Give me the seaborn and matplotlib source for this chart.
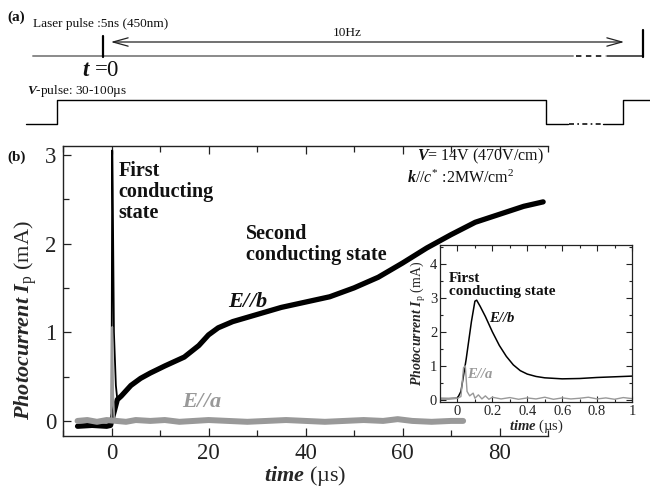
import numpy as np
import pandas as pd
import matplotlib
matplotlib.use("Agg")
import matplotlib.pyplot as plt
import seaborn as sns
from matplotlib.ticker import MultipleLocator

# ---------------- data ----------------
# main panel, E//b : fast spike (thin trace) and slow part (thick noisy trace)
b_fast_t = [-0.3, 0.0, 0.15, 0.25, 0.5, 0.9, 1.2]
b_fast_I = [-0.05, -0.05, 3.05, 2.6, 1.0, 0.40, 0.24]
b_slow_t = [-7, -4, -1, -0.2, 1.2, 2, 4, 6, 8, 11, 15, 18, 20, 22, 25, 30, 35,
            40, 45, 50, 55, 60, 65, 70, 75, 80, 85, 89]
b_slow_I = [-0.06, -0.05, -0.06, -0.05, 0.24, 0.28, 0.40, 0.48, 0.54, 0.62, 0.72,
            0.85, 0.97, 1.05, 1.12, 1.20, 1.28, 1.34, 1.40, 1.50, 1.62, 1.78,
            1.95, 2.10, 2.24, 2.33, 2.42, 2.47]
# main panel, E//a
a_fast_t = [-0.2, 0.0, 0.15, 0.35, 0.6]
a_fast_I = [0.0, 0.0, 1.06, 0.3, 0.0]
a_slow_t = [-7, -5, -3, -1, 1, 3, 5, 8, 11, 14, 17, 20, 24, 28, 32, 36, 40, 44,
            48, 52, 56, 59, 62, 66, 70, 72.5]
a_slow_I = [0.0, 0.01, -0.01, 0.01, 0.0, -0.01, 0.01, 0.0, 0.01, -0.01, 0.0,
            0.01, 0.0, -0.01, 0.0, 0.01, 0.0, -0.01, 0.0, 0.01, 0.0, 0.02,
            0.0, -0.01, 0.0, 0.0]
# inset (time in microseconds)
ib_t = [-0.1, -0.05, 0.0, 0.02, 0.05, 0.08, 0.1, 0.11, 0.13, 0.16, 0.2, 0.24,
        0.28, 0.32, 0.36, 0.4, 0.45, 0.5, 0.6, 0.7, 0.8, 0.9, 1.0]
ib_I = [0.04, 0.04, 0.05, 0.25, 1.2, 2.3, 2.9, 2.93, 2.75, 2.45, 2.0, 1.6,
        1.28, 1.03, 0.86, 0.76, 0.69, 0.65, 0.62, 0.63, 0.66, 0.68, 0.70]
ia_t = [-0.1, -0.05, 0.0, 0.02, 0.035, 0.045, 0.055, 0.07, 0.09, 0.1, 0.12,
        0.14, 0.16, 0.18, 0.2, 0.25, 0.3, 0.35, 0.4, 0.45, 0.5, 0.55, 0.6,
        0.65, 0.7, 0.75, 0.8, 0.85, 0.9, 0.95, 1.0]
ia_I = [0.05, 0.04, 0.05, 0.1, 0.95, 1.0, 0.25, 0.12, 0.2, 0.05, 0.15, 0.03,
        0.12, 0.02, 0.08, 0.03, 0.07, 0.02, 0.06, 0.03, 0.08, 0.02, 0.06,
        0.03, 0.05, 0.08, 0.03, 0.06, 0.02, 0.07, 0.04]

main_xticks = [0, 20, 40, 60, 80]
main_yticks = [0, 1, 2, 3]
inset_xticks = [0, 0.2, 0.4, 0.6, 0.8, 1]
inset_yticks = [0, 1, 2, 3, 4]

# ---------------- style ----------------
sns.set_theme(style="ticks")
plt.rcParams["font.family"] = ["Liberation Serif", "DejaVu Serif"]
plt.rcParams["mathtext.fontset"] = "custom"
plt.rcParams["mathtext.rm"] = "Liberation Serif"
plt.rcParams["mathtext.it"] = "Liberation Serif:italic"
plt.rcParams["mathtext.bf"] = "Liberation Serif:bold"
try:
    plt.rcParams["mathtext.bfit"] = "Liberation Serif:italic:bold"
except KeyError:
    pass
plt.rcParams["axes.linewidth"] = 1.0
plt.rcParams["text.color"] = "#111111"

W, H = 650, 487
fig = plt.figure(figsize=(6.5, 4.87), dpi=100)

# ---------------- panel (a): timing schematic, pixel coordinates ----------------
axs = fig.add_axes([0, 0, 1, 1])
axs.set_xlim(0, W)
axs.set_ylim(H, 0)
axs.axis("off")
axs.plot([33, 573], [56, 56], color="#8a8a8a", lw=1.4)
axs.plot([576, 606], [56, 56], color="#222222", lw=1.3, ls=(0, (3, 2.5)),
         solid_capstyle="butt", dash_capstyle="butt")
axs.plot([607, 643], [56, 56], color="#333333", lw=1.2)
axs.plot([103, 103], [36, 57], color="black", lw=1.6)
axs.plot([643, 643], [30, 57], color="black", lw=1.6)
axs.annotate("", xy=(627, 42), xytext=(108, 42),
             arrowprops=dict(arrowstyle="<->,head_length=0.9,head_width=0.25",
                             lw=0.9, color="#222222"))
axs.text(347, 33, "10Hz", ha="center", va="center", fontsize=9.5)
axs.plot([26, 57, 57, 546, 546, 568], [124, 124, 100, 100, 124, 124],
         color="black", lw=1.0)
axs.plot([569, 602], [124, 124], color="#111111", lw=1.2, ls=(0, (3, 2, 1, 2)),
         dash_capstyle="butt")
axs.plot([603, 623, 623, 650], [124, 124, 100, 100], color="black", lw=1.0)
axs.text(7, 17, "(a)", fontsize=11, fontweight="bold", ha="left", va="center")
axs.text(33, 24, "Laser pulse :5ns (450nm)", fontsize=9.5, ha="left", va="center")
axs.text(82, 71, r"$\mathbfit{t}$ =0", fontsize=16.5, ha="left", va="center")
axs.text(27, 91, r"$\mathbfit{V}$-pulse: 30-100µs", fontsize=9.5, ha="left", va="center")
axs.text(7, 157, "(b)", fontsize=11, fontweight="bold", ha="left", va="center")

# ---------------- panel (b): main axes ----------------
ax = fig.add_axes([63 / W, 1 - 436 / H, (548 - 63) / W, (436 - 146) / H])
ax.patch.set_alpha(0)
sns.lineplot(x=b_slow_t, y=b_slow_I, ax=ax, color="black", lw=3.8,
             estimator=None, sort=False)
sns.lineplot(x=b_fast_t, y=b_fast_I, ax=ax, color="black", lw=1.3,
             estimator=None, sort=False)
sns.lineplot(x=a_slow_t, y=a_slow_I, ax=ax, color="#999999", lw=4.3,
             estimator=None, sort=False)
sns.lineplot(x=a_fast_t, y=a_fast_I, ax=ax, color="#999999", lw=1.3,
             estimator=None, sort=False)
ax.set_xlim(-10, 90)
ax.set_ylim(-0.17, 3.1)
ax.set_xticks(main_xticks)
ax.set_yticks(main_yticks)
ax.xaxis.set_minor_locator(MultipleLocator(10))
ax.yaxis.set_minor_locator(MultipleLocator(0.5))
ax.tick_params(which="both", direction="in", top=True, right=False,
               labelsize=16.5, colors="#222222", pad=5)
ax.tick_params(which="major", length=6, width=0.9)
ax.tick_params(which="minor", length=4, width=0.9)
ax.spines["right"].set_visible(False)
for s in ["left", "bottom", "top"]:
    ax.spines[s].set_color("#222222")
ax.set_xlabel(r"$\mathbfit{time}$ (µs)", fontsize=16, labelpad=0)
ax.set_ylabel(r"$\mathbfit{Photocurrent\ I}_{\mathrm{p}}$ (mA)", fontsize=16)
ax.yaxis.set_label_coords(-0.05, 0.40)

ax.text(1.5, 2.58, "First\nconducting\nstate", fontsize=14.5, fontweight="bold",
        ha="left", va="center", linespacing=1.05)
ax.text(27.8, 1.99, "Second\nconducting state", fontsize=14.5, fontweight="bold",
        ha="left", va="center", linespacing=1.1)
ax.text(24.0, 1.34, r"$\mathbfit{E//b}$", fontsize=16, ha="left", va="center")
ax.text(14.5, 0.21, r"$\mathbfit{E//a}$", fontsize=16, ha="left", va="center",
        color="#999999")
ax.text(89.2, 2.98, r"$\mathbfit{V}$= 14V (470V/cm)", fontsize=11.5,
        ha="right", va="center")
ax.text(61.0, 2.74, r"$\mathbfit{k}\mathit{//c}^{*}$ :2MW/cm$^{2}$", fontsize=11.5,
        ha="left", va="center")

# ---------------- inset ----------------
axi = fig.add_axes([440 / W, 1 - 402 / H, (632 - 440) / W, (402 - 245) / H])
axi.set_facecolor("white")
sns.lineplot(x=ib_t, y=ib_I, ax=axi, color="black", lw=1.1,
             estimator=None, sort=False)
sns.lineplot(x=ia_t, y=ia_I, ax=axi, color="#999999", lw=1.0,
             estimator=None, sort=False)
axi.set_xlim(-0.1, 1.0)
axi.set_ylim(-0.06, 4.55)
axi.set_xticks(inset_xticks)
axi.set_xticklabels(["0", "0.2", "0.4", "0.6", "0.8", "1"])
axi.set_yticks(inset_yticks)
axi.xaxis.set_minor_locator(MultipleLocator(0.1))
axi.yaxis.set_minor_locator(MultipleLocator(0.5))
axi.tick_params(which="both", direction="in", top=True, right=True,
                labelsize=10.5, colors="#222222", pad=2)
axi.tick_params(which="major", length=4, width=0.8)
axi.tick_params(which="minor", length=2.5, width=0.8)
for s in axi.spines.values():
    s.set_color("#222222")
    s.set_linewidth(0.9)
axi.set_xlabel(r"$\mathbfit{time}$ (µs)", fontsize=10.5, labelpad=0)
axi.set_ylabel(r"$\mathbfit{Photocurrent\ I}_{\mathrm{p}}$ (mA)", fontsize=10,
               labelpad=1)
axi.text(-0.05, 3.38, "First\nconducting state", fontsize=11, fontweight="bold",
         ha="left", va="center", linespacing=1.0)
axi.text(0.18, 2.42, r"$\mathbfit{E//b}$", fontsize=10.5, ha="left", va="center")
axi.text(0.057, 0.76, r"$\mathbfit{E//a}$", fontsize=10.5, ha="left", va="center",
         color="#999999")

fig.savefig("out.png", dpi=100)
